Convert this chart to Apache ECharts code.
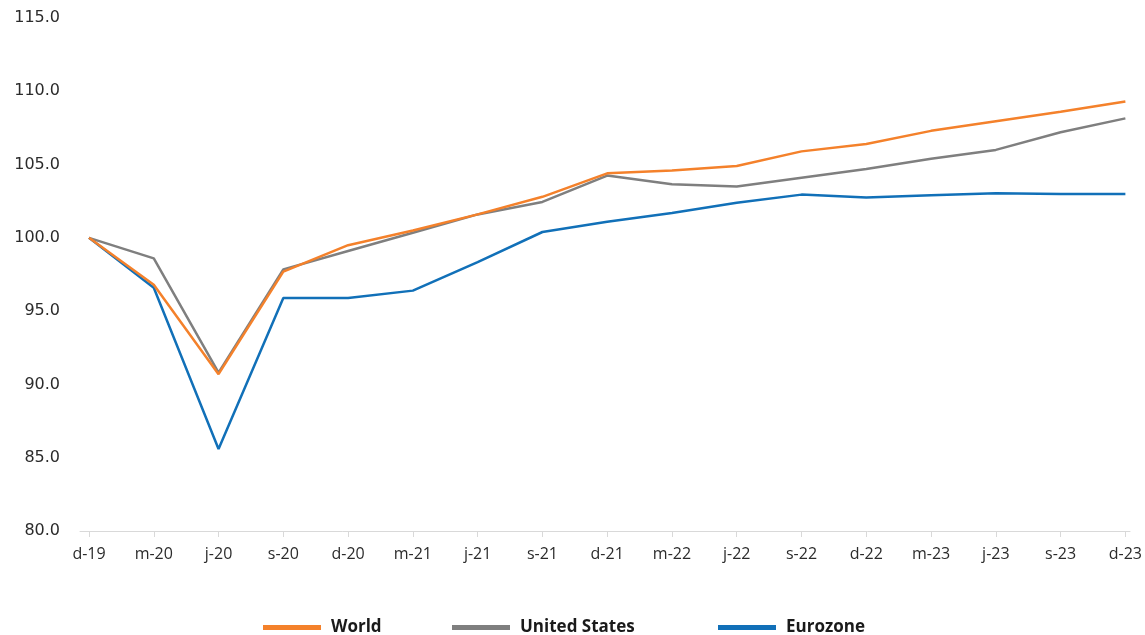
<!DOCTYPE html>
<html>
<head>
<meta charset="utf-8">
<script src="https://cdn.jsdelivr.net/npm/echarts@6/dist/echarts.min.js"></script>
<style>
html,body{margin:0;padding:0;background:#fff;}
#chart{width:1145px;height:635px;}
</style>
</head>
<body>
<div id="chart"></div>
<script>
const categories = ['d-19','m-20','j-20','s-20','d-20','m-21','j-21','s-21','d-21','m-22','j-22','s-22','d-22','m-23','j-23','s-23','d-23'];
const world = [100, 96.8, 90.7, 97.7, 99.5, 100.5, 101.6, 102.8, 104.4, 104.6, 104.9, 105.9, 106.4, 107.3, 107.95, 108.6, 109.3];
const unitedStates = [100, 98.6, 90.8, 97.85, 99.1, 100.35, 101.6, 102.45, 104.25, 103.65, 103.5, 104.1, 104.7, 105.4, 106.0, 107.2, 108.15];
const eurozone = [100, 96.6, 85.6, 95.9, 95.9, 96.4, 98.35, 100.4, 101.1, 101.7, 102.4, 102.95, 102.75, 102.9, 103.05, 103.0, 103.0];
const seriesNames = ['World', 'United States', 'Eurozone'];
const colors = ['#f4812b', '#7f7f7f', '#1170b8'];

const chart = echarts.init(document.getElementById('chart'));
const legendText = {fontFamily:'Open Sans', fontWeight:'bold', fontSize:17, color:'#1a1a1a', padding:[0,0,0,5]};
function legend(name, left){
  return {data:[name], left:left, top:619, padding:0, icon:'rect', itemWidth:58, itemHeight:5, textStyle:legendText, selectedMode:false};
}
chart.setOption({
  animation:false,
  color: colors,
  legend: [legend(seriesNames[0], 263), legend(seriesNames[1], 452), legend(seriesNames[2], 718)],
  grid: [
    {left:89, right:17, top:18, bottom:104},
    {left:80, right:15, top:18, bottom:104}
  ],
  xAxis: [
    {
      type:'category', data:categories, boundaryGap:false, gridIndex:0,
      axisLine:{show:false},
      axisTick:{show:true, length:6, lineStyle:{color:'#d9d9d9'}},
      axisLabel:{fontFamily:'Open Sans', fontSize:16, color:'#2b2b2b', margin:15},
      splitLine:{show:false}
    },
    {
      type:'value', gridIndex:1, min:0, max:1,
      axisLine:{show:true, lineStyle:{color:'#d9d9d9', width:1}},
      axisTick:{show:false}, axisLabel:{show:false}, splitLine:{show:false}
    }
  ],
  yAxis: [
    {
      type:'value', min:80, max:115, interval:5, gridIndex:0,
      axisLine:{show:false}, axisTick:{show:false}, splitLine:{show:false},
      axisLabel:{fontFamily:'DejaVu Sans', fontSize:16, color:'#2b2b2b', margin:29,
        formatter: v => v.toFixed(1)}
    },
    {
      type:'value', gridIndex:1, min:0, max:1, show:false
    }
  ],
  series: [
    {name:seriesNames[0], type:'line', data:world, showSymbol:false, symbol:'none', lineStyle:{width:2.5}, z:4},
    {name:seriesNames[1], type:'line', data:unitedStates, showSymbol:false, symbol:'none', lineStyle:{width:2.5}, z:3},
    {name:seriesNames[2], type:'line', data:eurozone, showSymbol:false, symbol:'none', lineStyle:{width:2.5}, z:2}
  ]
});
</script>
</body>
</html>
